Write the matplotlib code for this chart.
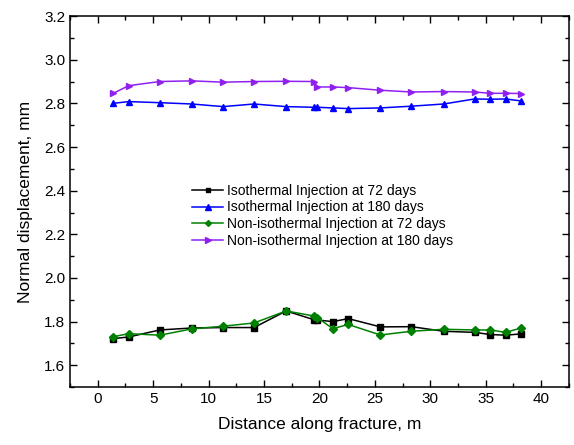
import matplotlib
matplotlib.use("Agg")
import matplotlib.pyplot as plt
from matplotlib.ticker import MultipleLocator

plt.rcParams['font.family'] = ['Liberation Sans', 'DejaVu Sans']

x = [1.4, 2.8, 5.6, 8.5, 11.3, 14.1, 17.0, 19.5, 19.8, 21.2, 22.6, 25.5,
     28.3, 31.2, 34.0, 35.4, 36.8, 38.2]

iso_72 = [1.722, 1.730, 1.762, 1.771, 1.773, 1.773, 1.849, 1.809, 1.808, 1.800,
          1.814, 1.776, 1.777, 1.756, 1.751, 1.741, 1.738, 1.744]
iso_180 = [2.800, 2.808, 2.803, 2.797, 2.785, 2.797, 2.785, 2.782, 2.782, 2.779,
           2.776, 2.779, 2.787, 2.797, 2.820, 2.819, 2.820, 2.811]
noniso_72 = [1.731, 1.745, 1.738, 1.767, 1.779, 1.794, 1.849, 1.826, 1.819, 1.768,
             1.787, 1.739, 1.756, 1.765, 1.762, 1.762, 1.751, 1.771]
noniso_180 = [2.846, 2.881, 2.900, 2.903, 2.897, 2.900, 2.901, 2.900, 2.875, 2.875,
              2.872, 2.860, 2.852, 2.854, 2.852, 2.846, 2.846, 2.845]

labels = ["Isothermal Injection at 72 days",
          "Isothermal Injection at 180 days",
          "Non-isothermal Injection at 72 days",
          "Non-isothermal Injection at 180 days"]

fig = plt.figure(figsize=(5.74, 4.45), dpi=100)
ax = fig.add_axes([0.122, 0.130, 0.869, 0.834])

lw = 1.1
ax.plot(x, iso_72, color='black', marker='s', markersize=4.3, lw=lw, label=labels[0])
ax.plot(x, iso_180, color='#0000FF', marker='^', markersize=5, lw=lw, label=labels[1])
ax.plot(x, noniso_72, color='#008000', marker='D', markersize=4, lw=lw, label=labels[2])
ax.plot(x, noniso_180, color='#9020F0', marker='>', markersize=5, lw=lw, label=labels[3])

ax.set_xlim(-2.5, 42.5)
ax.set_ylim(1.5, 3.2)
ax.xaxis.set_major_locator(MultipleLocator(5))
ax.xaxis.set_minor_locator(MultipleLocator(2.5))
ax.yaxis.set_minor_locator(MultipleLocator(0.1))
ax.set_yticks([1.6, 1.8, 2.0, 2.2, 2.4, 2.6, 2.8, 3.0, 3.2])
ax.set_yticklabels(['1.6', '1.8', '2.0', '2.2', '2.4', '2.6', '2.8', '3.0', '3.2'])

ax.tick_params(which='both', direction='in', top=True, right=True, labelsize=11)
ax.tick_params(which='major', length=5, width=1)
ax.tick_params(which='minor', length=3, width=1)
for s in ax.spines.values():
    s.set_linewidth(1.1)

ax.set_xlabel("Distance along fracture, m", fontsize=12.5, labelpad=8)
ax.set_ylabel("Normal displacement, mm", fontsize=12.5, labelpad=8)

leg = ax.legend(loc='upper left', bbox_to_anchor=(0.22, 0.582), frameon=False,
                fontsize=10, handlelength=2.2, handletextpad=0.3,
                labelspacing=0.2, markerscale=0.75)

fig.savefig("out.png", dpi=100)
